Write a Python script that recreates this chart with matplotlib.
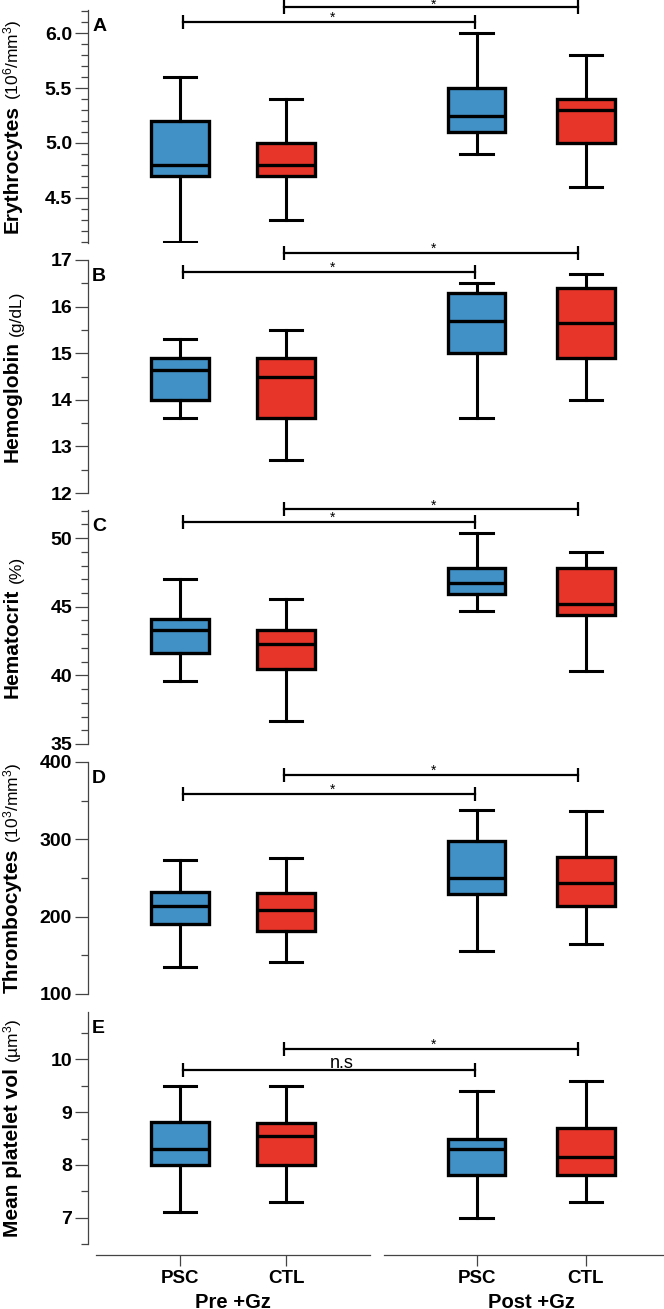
import matplotlib
matplotlib.use('Agg')
import matplotlib.pyplot as plt
from matplotlib.ticker import MultipleLocator, FixedLocator, FormatStrFormatter

plt.rcParams['font.family'] = ['Liberation Sans', 'DejaVu Sans']
plt.rcParams['mathtext.fontset'] = 'custom'
plt.rcParams['mathtext.rm'] = 'Liberation Sans'
plt.rcParams['mathtext.it'] = 'Liberation Sans:italic'
plt.rcParams['mathtext.bf'] = 'Liberation Sans:bold'

groups = ['PSC', 'CTL', 'PSC', 'CTL']
phases = ['Pre +Gz', 'Post +Gz']
box_colors = ['#4190c6', '#e8352a', '#4190c6', '#e8352a']

# each box: whisker low, Q1, median, Q3, whisker high
# order: PSC pre, CTL pre, PSC post, CTL post
ery = [[4.1, 4.7, 4.8, 5.2, 5.6], [4.3, 4.7, 4.8, 5.0, 5.4],
       [4.9, 5.1, 5.25, 5.5, 6.0], [4.6, 5.0, 5.3, 5.4, 5.8]]
hgb = [[13.6, 14.0, 14.65, 14.9, 15.3], [12.7, 13.6, 14.5, 14.9, 15.5],
       [13.6, 15.0, 15.7, 16.3, 16.5], [14.0, 14.9, 15.65, 16.4, 16.7]]
hct = [[39.6, 41.6, 43.3, 44.1, 47.0], [36.7, 40.5, 42.3, 43.3, 45.6],
       [44.7, 45.9, 46.7, 47.85, 50.4], [40.3, 44.4, 45.2, 47.8, 49.0]]
plt_count = [[135, 190, 214, 232, 273], [141, 182, 208, 231, 276],
             [155, 229, 250, 298, 338], [165, 214, 244, 277, 336]]
mpv = [[7.1, 7.99, 8.3, 8.81, 9.5], [7.3, 8.0, 8.55, 8.8, 9.5],
       [7.0, 7.8, 8.3, 8.5, 9.4], [7.3, 7.8, 8.15, 8.7, 9.6]]

names = ['Erythrocytes', 'Hemoglobin', 'Hematocrit', 'Thrombocytes', 'Mean platelet vol']
units = ['(10$^{6}$/mm$^{3}$)', '(g/dL)', '(%)', '(10$^{3}$/mm$^{3}$)', '(\u00b5m$^{3}$)']
letters = ['A', 'B', 'C', 'D', 'E']
panel_data = [ery, hgb, hct, plt_count, mpv]

# significance brackets: (PSC pre vs PSC post), (CTL pre vs CTL post)
bracket_y = [[6.1, 6.235], [16.75, 17.15], [51.2, 52.1], [359, 383], [9.8, 10.2]]
bracket_lab = [['*', '*'], ['*', '*'], ['*', '*'], ['*', '*'], ['n.s', '*']]

ylims = [(4.09, 6.21), (12, 17), (35, 52.05), (100, 400), (6.5, 10.9)]
majors = [[4.5, 5.0, 5.5, 6.0], [12, 13, 14, 15, 16, 17], [35, 40, 45, 50],
          [100, 200, 300, 400], [7, 8, 9, 10]]
minor_step = [0.1, 0.5, 1, 50, 0.5]
fmts = ['%.1f', '%d', '%d', '%d', '%d']

positions = [1, 2, 3.8, 4.83]
W, H = 664, 1309
fig = plt.figure(figsize=(W / 100, H / 100), dpi=100)

# axes pixel extents (top, bottom)
extents = [(10, 243), (260, 493), (510, 744), (762, 994), (1012, 1244)]
left_px = 88
spine_col = '#444444'

ylabels = []
for i in range(5):
    top, bot = extents[i]
    ax = fig.add_axes([left_px / W, 1 - bot / H, 1 - left_px / W, (bot - top) / H])
    vals = panel_data[i]
    stats = [dict(whislo=v[0], q1=v[1], med=v[2], q3=v[3], whishi=v[4], fliers=[])
             for v in vals]
    bp = ax.bxp(stats, positions=positions, widths=0.54, capwidths=0.31,
                patch_artist=True, showfliers=False,
                boxprops=dict(linewidth=2.4, edgecolor='black'),
                medianprops=dict(color='black', linewidth=2.4),
                whiskerprops=dict(color='black', linewidth=2.2),
                capprops=dict(color='black', linewidth=2.2))
    for patch, c in zip(bp['boxes'], box_colors):
        patch.set_facecolor(c)

    ax.set_xlim(0.132, 5.566)
    ax.set_ylim(*ylims[i])
    ax.yaxis.set_major_locator(FixedLocator(majors[i]))
    ax.yaxis.set_minor_locator(MultipleLocator(minor_step[i]))
    ax.yaxis.set_major_formatter(FormatStrFormatter(fmts[i]))
    ax.tick_params(axis='y', which='major', length=9.5, width=0.9, color=spine_col,
                   pad=2, labelsize=14)
    ax.tick_params(axis='y', which='minor', length=5, width=0.9, color=spine_col)
    for lab in ax.get_yticklabels():
        lab.set_fontweight('bold')
    for s in ['top', 'right']:
        ax.spines[s].set_visible(False)
    ax.spines['left'].set_color(spine_col)
    ax.spines['left'].set_linewidth(0.9)

    ax.text(0.007, 1 - 8 / (bot - top), letters[i], transform=ax.transAxes,
            fontsize=14, fontweight='bold', ha='left', va='top')

    # brackets
    spans = [(1.03, 3.78), (1.98, 4.75)]
    for (x0, x1), yb, lab in zip(spans, bracket_y[i], bracket_lab[i]):
        ax.plot([x0, x1], [yb, yb], color='black', lw=1.6, marker='|',
                ms=10, mew=1.6, clip_on=False)
        if lab == '*':
            dy = -1.2 if (i == 0 and yb > 6.2) else 0
            ax.annotate(lab, ((x0 + x1) / 2 + 0.03, yb), xytext=(0, dy),
                        textcoords='offset points', ha='center', va='baseline',
                        fontsize=10, annotation_clip=False)
        else:
            ax.annotate(lab, ((x0 + x1) / 2 + 0.12, yb), xytext=(0, 1.5),
                        textcoords='offset points', ha='center', va='baseline',
                        fontsize=13, annotation_clip=False)

    if i < 4:
        ax.spines['bottom'].set_visible(False)
        ax.set_xticks([])
    else:
        ax.spines['bottom'].set_position(('outward', 8))
        ax.spines['bottom'].set_bounds(0.21, 2.79)
        ax.spines['bottom'].set_color(spine_col)
        ax.spines['bottom'].set_linewidth(0.9)
        ax.set_xticks(positions)
        ax.set_xticklabels(groups, fontsize=13.5, fontweight='bold')
        ax.tick_params(axis='x', length=8, width=0.9, color=spine_col, pad=3)
        tr = ax.get_xaxis_transform(which='tick1')
        ax.plot([2.92, 5.57], [0, 0], color=spine_col, lw=0.9, transform=tr,
                clip_on=False)
        for k, ph in enumerate(phases):
            mid = (positions[2 * k] + positions[2 * k + 1]) / 2
            ax.annotate(ph, xy=(mid, 0), xycoords=tr, xytext=(0, -27),
                        textcoords='offset points', ha='center', va='top',
                        fontsize=14.5, fontweight='bold', annotation_clip=False)

    t_main = fig.text(0.004, 0, names[i], rotation=90, fontsize=15,
                      fontweight='bold', ha='left', va='bottom')
    t_unit = fig.text(0, 0, units[i], rotation=90, fontsize=12.5,
                      ha='right', va='bottom')
    ylabels.append((t_main, t_unit, (top + bot) / 2))

# center each two-part y label on its panel
fig.canvas.draw()
r = fig.canvas.get_renderer()
for t_main, t_unit, cy in ylabels:
    bm = t_main.get_window_extent(r)
    bu = t_unit.get_window_extent(r)
    gap = 5
    total = bm.height + gap + bu.height
    y0 = (H - cy) - total / 2
    t_main.set_y(y0 / H)
    t_unit.set_position(((bm.x1 + 2) / W, (y0 + bm.height + gap) / H))

fig.savefig('out.png', dpi=100)
